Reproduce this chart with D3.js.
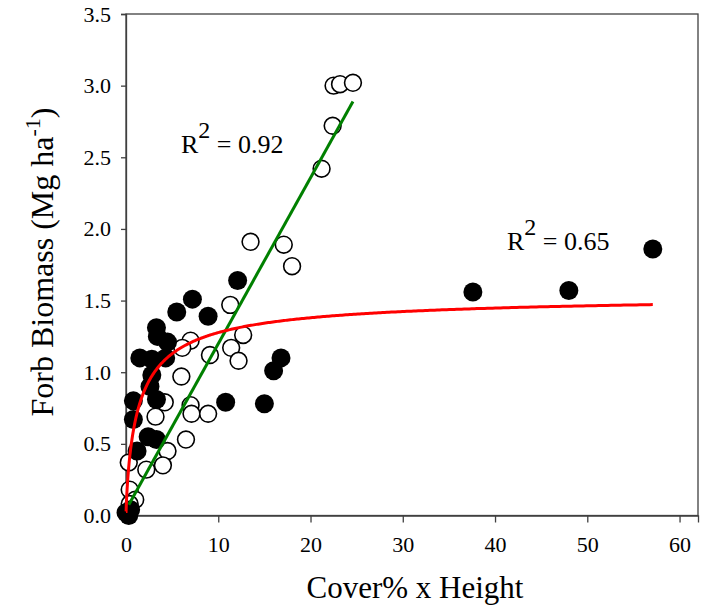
<!DOCTYPE html>
<html>
<head>
<meta charset="utf-8">
<script src="https://cdn.jsdelivr.net/npm/d3@7/dist/d3.min.js"></script>
<style>
  html, body { margin: 0; padding: 0; background: #fff; }
  svg { display: block; font-family: "Liberation Serif", "Times New Roman", serif; }
</style>
</head>
<body>
<svg id="chart" width="717" height="610"></svg>
<script>
// Filled circles: cover% x height vs. forb biomass
const filledCover   = [57.1, 48.0, 37.6, 15.0, 10.8, 16.8, 16.0, 12.1, 8.9, 7.2, 5.5, 3.3, 1.5, 2.8, 3.4, 4.5, 4.3, 2.8, 2.6, 3.3, 0.8, 0.8, 2.4, 3.3, 1.2, 0.0, 0.5, 0.3];
const filledBiomass = [1.86, 1.57, 1.56, 0.78, 0.79, 1.10, 1.01, 1.64, 1.39, 1.51, 1.42, 1.31, 1.10, 1.09, 1.25, 1.21, 1.10, 0.98, 0.90, 0.81, 0.80, 0.67, 0.55, 0.53, 0.45, 0.02, 0.04, 0.00];

// Open circles
const openCover   = [22.5, 23.2, 24.6, 22.4, 21.2, 13.5, 17.1, 18.0, 11.3, 12.7, 11.4, 12.2, 9.1, 7.0, 6.1, 6.0, 4.2, 7.0, 7.1, 8.9, 3.2, 6.5, 4.5, 4.0, 2.2, 0.3, 0.4, 1.0, 0.4];
const openBiomass = [3.00, 3.01, 3.02, 2.72, 2.42, 1.91, 1.89, 1.74, 1.47, 1.26, 1.17, 1.08, 1.12, 1.22, 1.17, 0.97, 0.79, 0.77, 0.71, 0.71, 0.69, 0.53, 0.45, 0.35, 0.32, 0.37, 0.18, 0.11, 0.08];

// Axis ticks
const xTicks = [0, 10, 20, 30, 40, 50, 60];
const yTicks = [0, 0.5, 1.0, 1.5, 2.0, 2.5, 3.0, 3.5];

// Fitted models
const linearFit = { intercept: 0.041, slope: 0.1158, r2: "0.92" };     // open circles
const hyperFit  = { ymax: 1.55, half: 1.457, power: 0.8, r2: "0.65" }; // filled circles

const svg = d3.select("#chart");
const plotLeft = 126, plotRight = 698, plotTop = 14, plotBottom = 515.5;

const x = d3.scaleLinear().domain([0, 62]).range([plotLeft, plotRight]);
const y = d3.scaleLinear().domain([0, 3.5]).range([plotBottom, plotTop]);

const axisColor = "#404040";

// Frame
svg.append("rect")
  .attr("x", plotLeft).attr("y", plotTop)
  .attr("width", plotRight - plotLeft).attr("height", plotBottom - plotTop)
  .attr("fill", "none").attr("stroke", axisColor).attr("stroke-width", 1.3);

// Axes
const xAxis = svg.append("g")
  .attr("transform", `translate(0,${plotBottom})`)
  .call(d3.axisBottom(x).tickValues(xTicks).tickSize(7).tickPadding(14).tickFormat(d3.format("d")));
const yAxis = svg.append("g")
  .attr("transform", `translate(${plotLeft},0)`)
  .call(d3.axisLeft(y).tickValues(yTicks).tickSize(5).tickPadding(10).tickFormat(d3.format(".1f")));

[xAxis, yAxis].forEach(g => {
  g.select(".domain").attr("stroke", axisColor).attr("stroke-width", 1.3);
  g.selectAll(".tick line").attr("stroke", axisColor).attr("stroke-width", 1.3);
  g.selectAll(".tick text")
    .attr("fill", "#000")
    .style("font-family", "'Liberation Serif', 'Times New Roman', serif")
    .style("font-size", "22px");
});

// Points: open circles first, filled on top
svg.append("g").selectAll("circle")
  .data(d3.range(openCover.length))
  .join("circle")
  .attr("cx", i => x(openCover[i]))
  .attr("cy", i => y(openBiomass[i]))
  .attr("r", 8.4)
  .attr("fill", "#fff")
  .attr("stroke", "#000")
  .attr("stroke-width", 1.6);

svg.append("g").selectAll("circle")
  .data(d3.range(filledCover.length))
  .join("circle")
  .attr("cx", i => x(filledCover[i]))
  .attr("cy", i => y(filledBiomass[i]))
  .attr("r", 9.5)
  .attr("fill", "#000");

// Regression lines
const line = d3.line().x(d => x(d[0])).y(d => y(d[1]));

const [oMin, oMax] = d3.extent(openCover);
svg.append("path")
  .datum([oMin, oMax].map(v => [v, linearFit.intercept + linearFit.slope * v]))
  .attr("d", line)
  .attr("fill", "none")
  .attr("stroke", "#008000")
  .attr("stroke-width", 3);

const [fMin, fMax] = d3.extent(filledCover);
const hyper = v => v <= 0 ? 0 : hyperFit.ymax / (1 + Math.pow(hyperFit.half / v, hyperFit.power));
const curvePts = d3.range(0, 401).map(k => {
  const t = k / 400;
  const v = fMin + (fMax - fMin) * Math.pow(t, 2.5);
  return [v, hyper(Math.max(v, 0.01))];
});
svg.append("path")
  .datum(curvePts)
  .attr("d", line)
  .attr("fill", "none")
  .attr("stroke", "#ff0000")
  .attr("stroke-width", 3);

// R² annotations
function r2Label(px, py, value) {
  const t = svg.append("text")
    .attr("x", px).attr("y", py)
    .attr("fill", "#000")
    .style("font-size", "26px");
  t.append("tspan").text("R");
  t.append("tspan").attr("dy", -15).style("font-size", "24px").text("2");
  t.append("tspan").attr("dy", 15).text(" = " + value);
}
r2Label(181, 153, linearFit.r2);
r2Label(507, 250, hyperFit.r2);

// Axis titles
svg.append("text")
  .attr("x", 415)
  .attr("y", 598)
  .attr("text-anchor", "middle")
  .attr("fill", "#000")
  .style("font-size", "31px")
  .text("Cover% x Height");

const yTitle = svg.append("text")
  .attr("transform", "translate(53,262) rotate(-90)")
  .attr("text-anchor", "middle")
  .attr("fill", "#000")
  .style("font-size", "32px");
yTitle.append("tspan").text("Forb Biomass (Mg ha");
yTitle.append("tspan").attr("dy", -13).style("font-size", "22px").text("-1");
yTitle.append("tspan").attr("dy", 13).text(")");
</script>
</body>
</html>
